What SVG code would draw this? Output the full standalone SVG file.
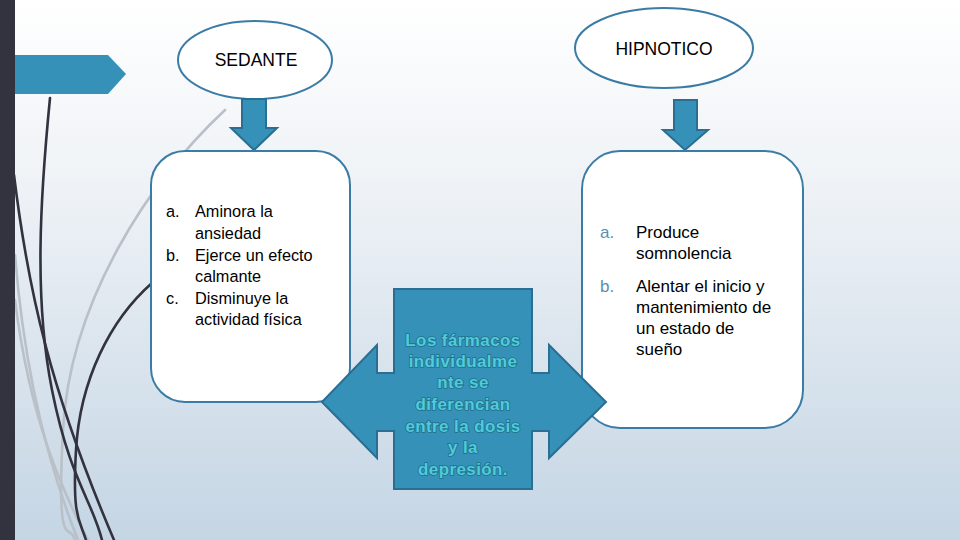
<svg xmlns="http://www.w3.org/2000/svg" width="960" height="540" viewBox="0 0 960 540">
<defs>
<linearGradient id="bg" x1="0" y1="0" x2="0" y2="1">
<stop offset="0" stop-color="#ffffff"/>
<stop offset="0.35" stop-color="#eef2f6"/>
<stop offset="1" stop-color="#c4d5e4"/>
</linearGradient>
<style>
.dark{fill:none;stroke:#33323f;stroke-width:2.6;stroke-linecap:round}
.gray{fill:none;stroke:#b9c0c8;stroke-width:2.6;stroke-linecap:round}
.ell{fill:#ffffff;stroke:#3a7ca5;stroke-width:2}
.box{fill:#ffffff;stroke:#3a7ca5;stroke-width:2}
.blue{fill:#3591b8;stroke:#2a6f93;stroke-width:2}
.t{font-family:"Liberation Sans",Arial,sans-serif;fill:#000000}
.lbl{font-size:17.5px;text-anchor:middle}
.li{font-size:16.3px}
.ri{font-size:17px}
.mk{fill:#5b8fae}
.ct{font-family:"Liberation Sans",Arial,sans-serif;font-weight:700;font-size:17px;letter-spacing:0.4px;text-anchor:middle;fill:#4fcbdc;stroke:#22708a;stroke-width:1.6px;paint-order:stroke}
</style>
</defs>
<rect x="0" y="0" width="960" height="540" fill="url(#bg)"/>
<g id="decor">
<path class="gray" d="M225,110 C150,180 70,300 63,430 S70,520 75,540"/>
<path class="gray" d="M15,255 C25,380 50,470 78,540"/>
<path class="gray" d="M15,300 C30,420 62,490 88,540"/>
<path class="dark" d="M50,98 C40,200 34,300 52,390 S92,500 102,540"/>
<path class="dark" d="M14,175 C28,290 50,390 114,540"/>
<path class="dark" d="M152,283 C110,320 80,380 76,450 S80,520 86,540"/>
<rect x="0" y="0" width="15" height="540" fill="#33323f"/>
<polygon points="15,55 108,55 126,74 108,94 15,94" fill="#3591b8"/>
</g>
<g id="sedante">
<ellipse class="ell" cx="255" cy="60" rx="77" ry="39"/>
<text class="t lbl" x="256" y="66">SEDANTE</text>
</g>
<g id="hipnotico">
<ellipse class="ell" cx="664" cy="48" rx="89" ry="40"/>
<text class="t lbl" x="664" y="55">HIPNOTICO</text>
</g>
<g id="connectors">
<polygon class="blue" points="242,99 266,99 266,128 277,128 254,150 231,128 242,128"/>
<polygon class="blue" points="674,100 697,100 697,130 708,130 685,150 663,130 674,130"/>
</g>
<g id="sedante-box">
<rect class="box" x="151" y="151" width="199" height="251" rx="34"/>
<text class="t li" x="166" y="217">a.</text>
<text class="t li" x="195" y="217">Aminora la</text>
<text class="t li" x="195" y="239">ansiedad</text>
<text class="t li" x="166" y="261">b.</text>
<text class="t li" x="195" y="261">Ejerce un efecto</text>
<text class="t li" x="195" y="282">calmante</text>
<text class="t li" x="166" y="304">c.</text>
<text class="t li" x="195" y="304">Disminuye la</text>
<text class="t li" x="195" y="325">actividad física</text>
</g>
<g id="hipnotico-box">
<rect class="box" x="582" y="151" width="221" height="277" rx="38"/>
<text class="t ri mk" x="600" y="238">a.</text>
<text class="t ri" x="636" y="238">Produce</text>
<text class="t ri" x="636" y="259">somnolencia</text>
<text class="t ri mk" x="600" y="292">b.</text>
<text class="t ri" x="636" y="292">Alentar el inicio y</text>
<text class="t ri" x="636" y="313">mantenimiento de</text>
<text class="t ri" x="636" y="334">un estado de</text>
<text class="t ri" x="636" y="355">sueño</text>
</g>
<g id="center">
<path class="blue" d="M394,289 L532,289 L532,373 L549,373 L549,345 L606,402 L549,458 L549,431 L532,431 L532,489 L394,489 L394,431 L377,431 L377,458 L322,402 L377,345 L377,373 L394,373 Z"/>
<text class="ct" x="463" y="346">Los fármacos</text>
<text class="ct" x="463" y="367">individualme</text>
<text class="ct" x="463" y="388">nte se</text>
<text class="ct" x="463" y="410">diferencian</text>
<text class="ct" x="463" y="432">entre la dosis</text>
<text class="ct" x="463" y="453">y la</text>
<text class="ct" x="463" y="475">depresión.</text>
</g>
</svg>
